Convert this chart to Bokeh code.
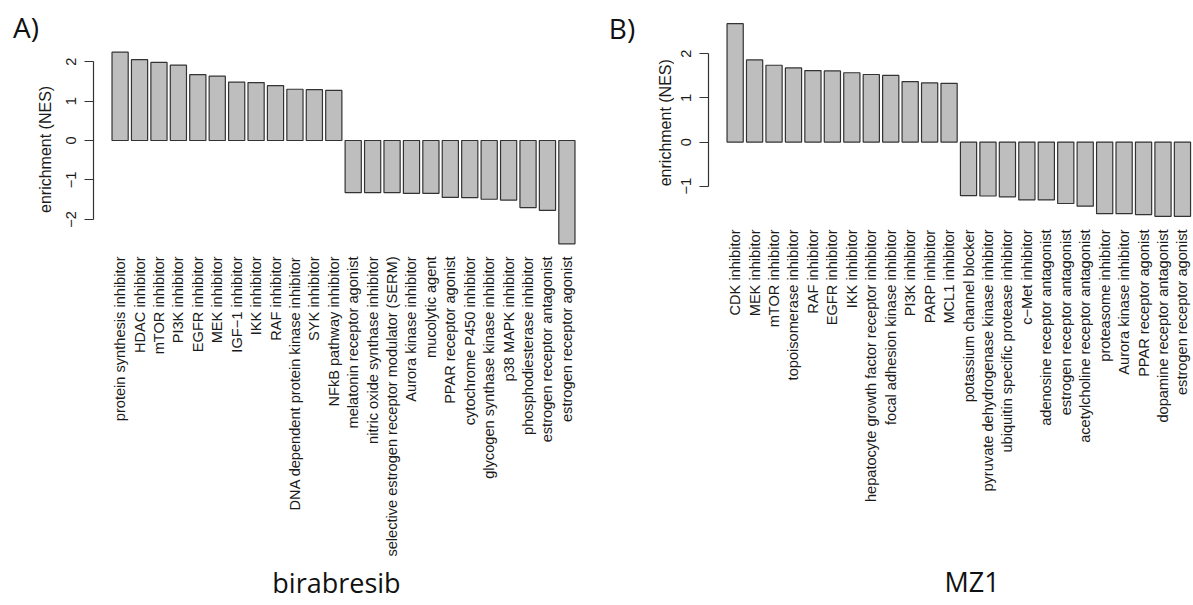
import math
from bokeh.plotting import figure
from bokeh.layouts import row
from bokeh.models import FixedTicker, Label, Range1d, ColumnDataSource
from bokeh.embed import file_html
from bokeh.resources import INLINE

# ---------------- data ----------------
labels_a = [
    "protein synthesis inhibitor", "HDAC inhibitor", "mTOR inhibitor", "PI3K inhibitor",
    "EGFR inhibitor", "MEK inhibitor", "IGF\u22121 inhibitor", "IKK inhibitor", "RAF inhibitor",
    "DNA dependent protein kinase inhibitor", "SYK inhibitor", "NFkB pathway inhibitor",
    "melatonin receptor agonist", "nitric oxide synthase inhibitor",
    "selective estrogen receptor modulator (SERM)", "Aurora kinase inhibitor",
    "mucolytic agent", "PPAR receptor agonist", "cytochrome P450 inhibitor",
    "glycogen synthase kinase inhibitor", "p38 MAPK inhibitor",
    "phosphodiesterase inhibitor", "estrogen receptor antagonist", "estrogen receptor agonist",
]
nes_a = [2.24, 2.05, 1.98, 1.91, 1.67, 1.63, 1.48, 1.47, 1.39, 1.30, 1.29, 1.27,
         -1.32, -1.32, -1.32, -1.34, -1.34, -1.44, -1.45, -1.49, -1.51, -1.70, -1.77, -2.62]

labels_b = [
    "CDK inhibitor", "MEK inhibitor", "mTOR inhibitor", "topoisomerase inhibitor",
    "RAF inhibitor", "EGFR inhibitor", "IKK inhibitor",
    "hepatocyte growth factor receptor inhibitor", "focal adhesion kinase inhibitor",
    "PI3K inhibitor", "PARP inhibitor", "MCL1 inhibitor", "potassium channel blocker",
    "pyruvate dehydrogenase kinase inhibitor", "ubiquitin specific protease inhibitor",
    "c\u2212Met inhibitor", "adenosine receptor antagonist", "estrogen receptor antagonist",
    "acetylcholine receptor antagonist", "proteasome inhibitor", "Aurora kinase inhibitor",
    "PPAR receptor agonist", "dopamine receptor antagonist", "estrogen receptor agonist",
]
nes_b = [2.68, 1.86, 1.74, 1.68, 1.62, 1.61, 1.57, 1.53, 1.51, 1.37, 1.34, 1.33,
         -1.21, -1.22, -1.24, -1.31, -1.31, -1.39, -1.45, -1.62, -1.62, -1.64, -1.68, -1.68]

yticks_a = [-2, -1, 0, 1, 2]
yticks_b = [-1, 0, 1, 2]
title_a = "birabresib"
title_b = "MZ1"
tag_a = "A)"
tag_b = "B)"
ylab = "enrichment  (NES)"

# ---------------- style / layout ----------------
FONT = "Liberation Sans"
TFONT = "Open Sans"
BAR_FILL = "#bebebe"
INK = "#333333"
TXT = "#1a1a1a"
PAGE_H = 605
FRAME_TOP = 15       # common frame top of all figures in the row (page px)
FRAME_BOTTOM = 251   # common frame bottom (page px)
NBSP = "\u00a0"


def r_yrange(vals):
    lo = min(0.0, min(vals))
    hi = max(0.0, max(vals))
    ext = 0.04 * (hi - lo)
    return lo - ext, hi + ext


def r_xrange(n):
    # R barplot geometry: width 1, space 0.2 -> pitch 1.2, centre 0.7+1.2*i; 4% extension.
    lo, hi = 0.2, 1.2 * n
    ext = 0.04 * (hi - lo)
    return (lo - ext - 0.7) / 1.2, (hi + ext - 0.7) / 1.2


def base_fig(width, x_range, y_range, left, right, **kw):
    p = figure(width=int(width), height=PAGE_H, x_range=x_range, y_range=y_range,
               output_backend="svg", toolbar_location=None,
               min_border_left=int(left), min_border_right=int(right),
               min_border_top=FRAME_TOP, min_border_bottom=PAGE_H - FRAME_BOTTOM, **kw)
    p.outline_line_color = None
    p.grid.visible = False
    p.background_fill_color = "white"
    p.border_fill_color = "white"
    return p


def tag_panel(fig_left, fig_right, tag, tag_x, tag_mid, ylab_x, ylab_y):
    p = base_fig(fig_right - fig_left, Range1d(fig_left, fig_right),
                 Range1d(FRAME_BOTTOM, FRAME_TOP), 0, 0,
                 x_axis_location=None, y_axis_location=None)
    p.add_layout(Label(x=tag_x, y=tag_mid, text=tag, text_font=TFONT, text_font_size="28px",
                       text_color="#111111", text_align="left", text_baseline="middle"))
    p.add_layout(Label(x=ylab_x, y=ylab_y, text=ylab, angle=math.pi / 2,
                       text_font=FONT, text_font_size="16px", text_color=TXT,
                       text_align="center", text_baseline="middle"))
    return p


def bar_panel(labels, values, yticks, fig_left, fig_right, frame_left, r_frame, r_right,
              title, title_standoff):
    n = len(labels)
    r_lo, r_hi = r_yrange(values)
    ppu = (r_frame[1] - r_frame[0]) / (r_hi - r_lo)
    y_start = r_lo - (FRAME_BOTTOM - r_frame[1]) / ppu
    y_end = r_hi + (r_frame[0] - FRAME_TOP) / ppu
    x_lo, x_hi = r_xrange(n)
    frame_right = min(r_right, fig_right)
    ppp = (r_right - frame_left) / (x_hi - x_lo)
    x_end = x_lo + (frame_right - frame_left) / ppp

    p = base_fig(fig_right - fig_left, Range1d(x_lo, x_end), Range1d(y_start, y_end),
                 frame_left - fig_left, round(fig_right - frame_right))

    src = ColumnDataSource(dict(x=list(range(n)), top=values))
    p.vbar(x="x", top="top", bottom=0, width=1 / 1.2, source=src,
           fill_color=BAR_FILL, line_color=INK, line_width=1.2)

    xa = p.xaxis[0]
    xa.ticker = FixedTicker(ticks=list(range(n)), minor_ticks=[])
    xa.major_label_overrides = {i: lab for i, lab in enumerate(labels)}
    xa.major_label_orientation = math.pi / 2
    xa.axis_line_color = None
    xa.major_tick_line_color = None
    xa.minor_tick_line_color = None
    xa.major_tick_out = 0
    xa.major_tick_in = 0
    xa.major_label_standoff = int(round(r_frame[1] + 5 - FRAME_BOTTOM))
    xa.major_label_text_font = FONT
    xa.major_label_text_font_size = "14.6px"
    xa.major_label_text_color = TXT
    xa.axis_label = title
    xa.axis_label_standoff = title_standoff
    xa.axis_label_text_font = TFONT
    xa.axis_label_text_font_size = "27px"
    xa.axis_label_text_font_style = "normal"
    xa.axis_label_text_color = "#111111"

    ya = p.yaxis[0]
    ya.ticker = FixedTicker(ticks=yticks, minor_ticks=[])
    ya.bounds = (min(yticks), max(yticks))
    ya.major_label_overrides = {t: str(t).replace("-", "\u2212") for t in yticks}
    ya.major_label_orientation = "vertical"
    ya.major_tick_out = 9
    ya.major_tick_in = 0
    ya.minor_tick_line_color = None
    ya.axis_line_color = INK
    ya.axis_line_width = 1.2
    ya.major_tick_line_color = INK
    ya.major_tick_line_width = 1.2
    ya.major_label_standoff = 8
    ya.major_label_text_font = FONT
    ya.major_label_text_font_size = "14.6px"
    ya.major_label_text_color = TXT
    return p


t_a = tag_panel(0, 58, tag_a, 12.5, 26.5, 45, 146.7)
p_a = bar_panel(labels_a, nes_a, yticks_a, 58, 600, 93, (44.0, 251.0), 593.0,
                title_a + NBSP * 2, 4)
t_b = tag_panel(600, 674, tag_b, 608.3, 27, 665, 120)
p_b = bar_panel(labels_b, nes_b, yticks_b, 674, 1193, 708, (15.5, 223.5), 1208.6,
                NBSP * 6 + title_b, 58)

layout = row(t_a, p_a, t_b, p_b, spacing=0)
open("out.html", "w").write(file_html(layout, INLINE))
